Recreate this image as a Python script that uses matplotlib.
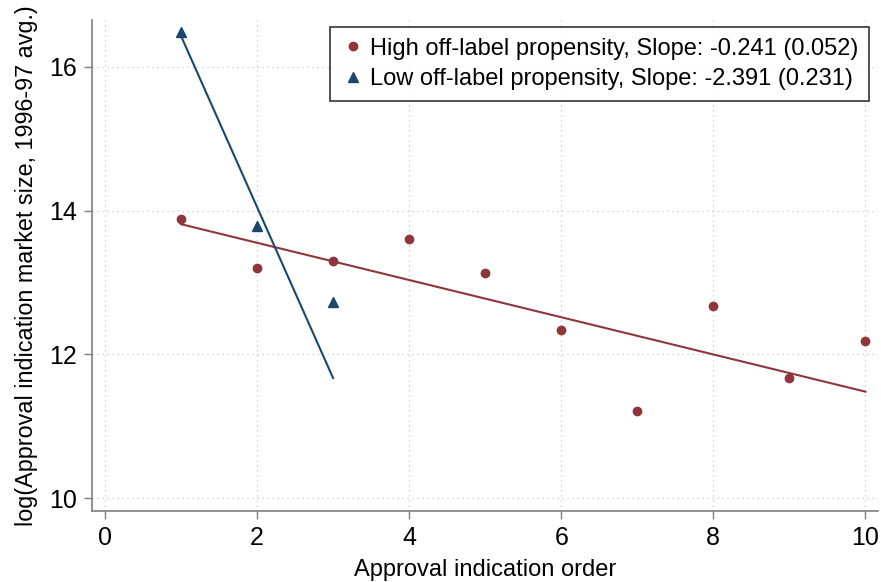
import numpy as np
import matplotlib
matplotlib.use("Agg")
import matplotlib.pyplot as plt

plt.rcParams['font.family'] = ['Liberation Sans', 'DejaVu Sans']

# data
order = [1, 2, 3, 4, 5, 6, 7, 8, 9, 10]
high_y = [13.88, 13.20, 13.30, 13.60, 13.13, 12.34, 11.21, 12.67, 11.67, 12.19]
high_fit_x = [1, 10]
high_fit_y = [13.81, 11.48]

low_x = [1, 2, 3]
low_y = [16.49, 13.79, 12.73]
low_fit_x = [1, 3]
low_fit_y = [16.43, 11.67]

high_label = "High off-label propensity, Slope: -0.241 (0.052)"
low_label = "Low off-label propensity, Slope: -2.391 (0.231)"

red = "#90353B"
navy = "#1A476F"

fig = plt.figure(figsize=(8.81, 5.82), dpi=100)
ax = fig.add_axes([0.1044, 0.122, 0.8926, 0.8436])

ax.plot(high_fit_x, high_fit_y, color=red, lw=1.5, zorder=2)
ax.plot(low_fit_x, low_fit_y, color=navy, lw=1.5, zorder=2)
ax.plot(order, high_y, 'o', color=red, ms=6, label=high_label, zorder=3)
ax.plot(low_x, low_y, '^', color=navy, ms=7, label=low_label, zorder=3)

ax.set_xlim(-0.17, 10.17)
ax.set_ylim(9.82, 16.65)
ax.set_xticks([0, 2, 4, 6, 8, 10])
ax.set_yticks([10, 12, 14, 16])
ax.grid(True, color="#c8c8c8", ls=(0, (1, 3)), lw=0.9)
ax.set_axisbelow(True)

for s in ['top', 'right']:
    ax.spines[s].set_visible(False)
for s in ['left', 'bottom']:
    ax.spines[s].set_color("#7f7f7f")
    ax.spines[s].set_linewidth(1.2)
ax.tick_params(colors="#7f7f7f", labelcolor="black", labelsize=18, length=6, width=1, pad=5)

ax.set_xlabel("Approval indication order", fontsize=17, labelpad=6)
ax.set_ylabel("log(Approval indication market size, 1996-97 avg.)", fontsize=16.8, labelpad=8)

leg = ax.legend(loc="upper right", bbox_to_anchor=(0.9975, 1.0), fontsize=17,
                frameon=True, fancybox=False, handletextpad=0.25, handlelength=1.0,
                borderpad=0.45, labelspacing=0.35, borderaxespad=0.3)
leg.get_frame().set_edgecolor("black")
leg.get_frame().set_linewidth(1.2)

fig.savefig("out.png", dpi=100)
